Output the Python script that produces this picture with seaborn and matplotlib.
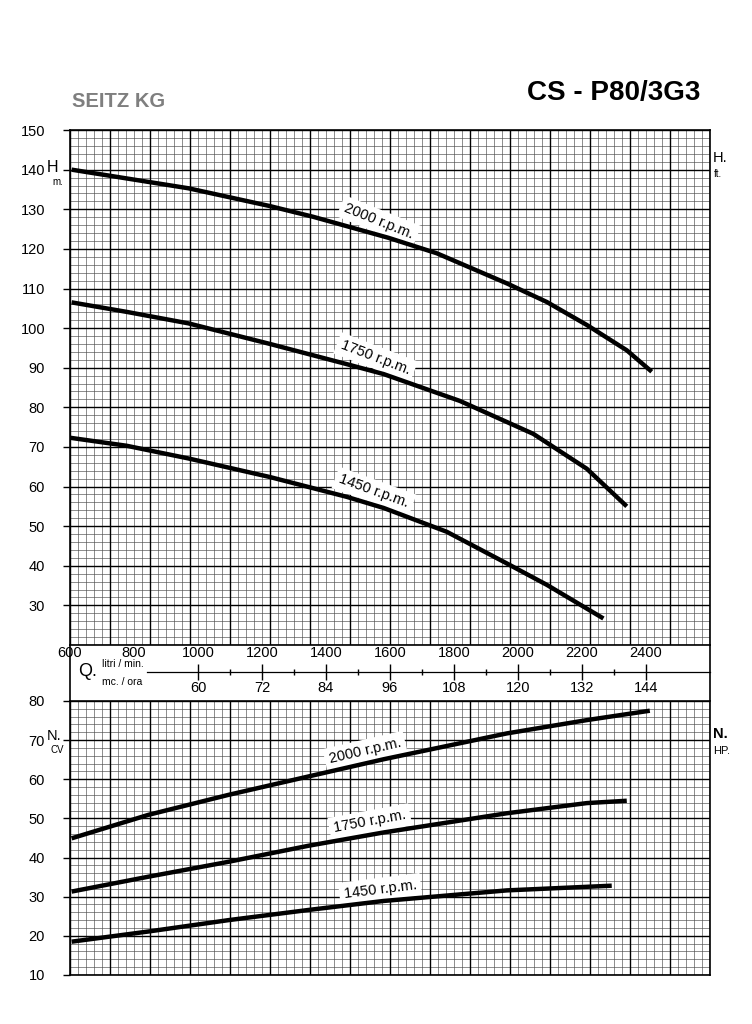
import numpy as np
import pandas as pd
import matplotlib
matplotlib.use('Agg')
import matplotlib.pyplot as plt
import seaborn as sns

# Head curves H (m) vs Q (l/min)
q_h_2000 = [605, 970, 1225, 1360, 1595, 1746, 1965, 2090, 2215, 2340, 2418]
h_2000 = [140.0, 135.3, 130.8, 128.1, 122.8, 118.9, 111.3, 106.6, 100.8, 94.4, 89.0]
q_h_1750 = [605, 777, 970, 1225, 1465, 1580, 1819, 2048, 2215, 2340]
h_1750 = [106.5, 104.1, 101.2, 96.0, 90.9, 88.4, 81.6, 73.3, 64.5, 55.0]
q_h_1450 = [602, 777, 970, 1225, 1465, 1580, 1777, 1965, 2090, 2267]
h_1450 = [72.3, 70.3, 67.1, 62.4, 57.4, 54.6, 48.6, 40.6, 35.2, 26.7]

# Power curves N (CV) vs Q (l/min)
q_n_2000 = [605, 845, 1095, 1345, 1580, 1965, 2215, 2412]
n_2000 = [44.9, 50.9, 56.0, 60.7, 65.1, 71.7, 75.1, 77.5]
q_n_1750 = [605, 845, 1095, 1345, 1580, 1965, 2215, 2340]
n_1750 = [31.3, 35.1, 38.9, 43.0, 46.4, 51.3, 53.9, 54.5]
q_n_1450 = [605, 845, 1095, 1345, 1580, 1965, 2293]
n_1450 = [18.5, 21.1, 24.0, 26.6, 28.9, 31.6, 32.8]

speeds = ['2000 r.p.m.', '1750 r.p.m.', '1450 r.p.m.']
q_ticks = [600, 800, 1000, 1200, 1400, 1600, 1800, 2000, 2200, 2400]
h_ticks = [150, 140, 130, 120, 110, 100, 90, 80, 70, 60, 50, 40, 30]
n_ticks = [80, 70, 60, 50, 40, 30, 20, 10]
mc_ticks = [60, 72, 84, 96, 108, 120, 132, 144]
mc_minor = [66, 78, 90, 102, 114, 126, 138]

# label anchors (Q, value, rotation)
h_labels = [(1565, 127.0, -22), (1555, 92.6, -21), (1550, 58.8, -20)]
n_labels = [(1522, 67.2, 13), (1537, 49.1, 10.5), (1569, 31.9, 7)]

head = pd.concat([
    pd.DataFrame({'Q': q_h_2000, 'val': h_2000, 'rpm': speeds[0]}),
    pd.DataFrame({'Q': q_h_1750, 'val': h_1750, 'rpm': speeds[1]}),
    pd.DataFrame({'Q': q_h_1450, 'val': h_1450, 'rpm': speeds[2]}),
])
power = pd.concat([
    pd.DataFrame({'Q': q_n_2000, 'val': n_2000, 'rpm': speeds[0]}),
    pd.DataFrame({'Q': q_n_1750, 'val': n_1750, 'rpm': speeds[1]}),
    pd.DataFrame({'Q': q_n_1450, 'val': n_1450, 'rpm': speeds[2]}),
])

sns.set_theme(style='white')
plt.rcParams['font.family'] = ['Liberation Sans', 'DejaVu Sans']
plt.rcParams['text.color'] = 'black'
plt.rcParams['xtick.color'] = 'black'
plt.rcParams['ytick.color'] = 'black'
plt.rcParams['xtick.labelcolor'] = 'black'
plt.rcParams['ytick.labelcolor'] = 'black'

fig = plt.figure(figsize=(7.52, 10.24), dpi=100)
ax_m = fig.add_axes([0.0931, 0.3164, 0.851, 0.0537])
ax_h = fig.add_axes([0.0931, 0.3701, 0.851, 0.5029])
ax_n = fig.add_axes([0.0931, 0.0479, 0.851, 0.2676])
ax_m.set_zorder(0)
ax_m.patch.set_visible(False)
ax_h.set_zorder(2)
ax_n.set_zorder(2)

XMIN, XMAX = 600, 2600


def graph_paper(ax, ymin, ymax):
    # square-ruled paper, thin fine rules, bold every 5 cells
    fine = dict(color='0.3', lw=0.45, zorder=1)
    ax.vlines(np.arange(XMIN, XMAX + 1, 25), ymin, ymax, **fine)
    ax.hlines(np.arange(ymin, ymax + 0.01, 2), XMIN, XMAX, **fine)
    ax.vlines(np.arange(XMIN, XMAX + 1, 125), ymin, ymax, color='black', lw=1.0, zorder=1)
    ax.hlines(np.arange(ymin, ymax + 0.01, 10), XMIN, XMAX, color='black', lw=1.0, zorder=1)
    ax.set_xlim(XMIN, XMAX)
    ax.set_ylim(ymin, ymax)
    for s in ax.spines.values():
        s.set_color('black')
        s.set_linewidth(1.2)


graph_paper(ax_h, 20, 150)
graph_paper(ax_n, 10, 80)

for ax, df, labels in [(ax_h, head, h_labels), (ax_n, power, n_labels)]:
    sns.lineplot(data=df, x='Q', y='val', hue='rpm', palette=['black'] * 3,
                 estimator=None, sort=False, legend=False, lw=3.2, ax=ax, zorder=5)
    for line in ax.get_lines():
        line.set_solid_joinstyle('round')
        line.set_solid_capstyle('butt')
    for name, (qx, vy, rot) in zip(speeds, labels):
        ax.text(qx, vy, name, rotation=rot, ha='center', va='center', fontsize=10.5,
                rotation_mode='anchor', zorder=4,
                bbox=dict(boxstyle='square,pad=0.3', fc='white', ec='none'))
    ax.set_xlabel('')
    ax.set_ylabel('')

ax_h.set_yticks(h_ticks)
ax_h.set_yticklabels([str(v) for v in h_ticks], fontsize=10.5)
ax_h.set_xticks(q_ticks)
ax_h.set_xticklabels([str(v) for v in q_ticks], fontsize=10.5)
ax_h.tick_params(axis='x', length=0, pad=1)
ax_h.tick_params(axis='y', left=True, length=5, width=1, pad=13, color='black')

ax_n.set_yticks(n_ticks)
ax_n.set_yticklabels([str(v) for v in n_ticks], fontsize=10.5)
ax_n.set_xticks([])
ax_n.tick_params(axis='y', left=True, length=5, width=1, pad=13, color='black')

# axis unit labels
yt = ax_h.get_yaxis_transform()
ax_h.text(-0.018, 140.6, 'H', transform=yt, ha='right', va='center', fontsize=11.5)
ax_h.text(-0.011, 137.0, 'm.', transform=yt, ha='right', va='center', fontsize=7)
ax_h.text(1.004, 143.0, 'H.', transform=yt, ha='left', va='center', fontsize=10.5)
ax_h.text(1.006, 139.0, 'ft.', transform=yt, ha='left', va='center', fontsize=7)
yt = ax_n.get_yaxis_transform()
ax_n.text(-0.013, 71.0, 'N.', transform=yt, ha='right', va='center', fontsize=10.5)
ax_n.text(-0.009, 67.5, 'CV', transform=yt, ha='right', va='center', fontsize=7)
ax_n.text(1.004, 71.5, 'N.', transform=yt, ha='left', va='center', fontsize=10.5,
          fontweight='bold')
ax_n.text(1.005, 67.3, 'HP.', transform=yt, ha='left', va='center', fontsize=8)

# middle band with secondary flow scale (m3/h)
ax_m.set_xlim(XMIN, XMAX)
ax_m.set_ylim(0, 1)
ax_m.set_xticks([])
ax_m.set_yticks([])
ax_m.spines['top'].set_visible(False)
ax_m.spines['bottom'].set_visible(False)
for s in ['left', 'right']:
    ax_m.spines[s].set_color('black')
    ax_m.spines[s].set_linewidth(1.2)

sec = ax_m.secondary_xaxis(0.51, functions=(lambda q: q * 60 / 1000,
                                             lambda m: m * 1000 / 60))
sec.set_alignment('bottom')
sec.set_xticks(mc_ticks)
sec.set_xticklabels([str(v) for v in mc_ticks], fontsize=10.5)
sec.set_xticks(mc_minor, minor=True)
sec.tick_params(axis='x', which='major', direction='inout', length=11, width=1,
                pad=1, color='black')
sec.tick_params(axis='x', which='minor', direction='inout', length=4, width=1,
                color='black')
sec.spines['bottom'].set_bounds(50.4, 156)
sec.spines['bottom'].set_linewidth(0.9)
sec.spines['bottom'].set_color('black')

ax_m.text(0.012, 0.51, 'Q.', transform=ax_m.transAxes, ha='left', va='center',
          fontsize=13)
ax_m.text(0.05, 0.57, 'litri / min.', transform=ax_m.transAxes, ha='left',
          va='bottom', fontsize=7.5)
ax_m.text(0.05, 0.33, 'mc. / ora', transform=ax_m.transAxes, ha='left',
          va='center', fontsize=7.5)

# header
fig.text(0.096, 0.901, 'SEITZ KG', color='#7f7f7f', fontsize=14.5, fontweight='bold',
         ha='left', va='center')
fig.text(0.931, 0.909, 'CS - P80/3G3', fontsize=20, fontweight='bold', ha='right',
         va='center', family=['Liberation Sans Narrow', 'Liberation Sans', 'DejaVu Sans'])

fig.savefig('out.png', dpi=100, facecolor='white')
